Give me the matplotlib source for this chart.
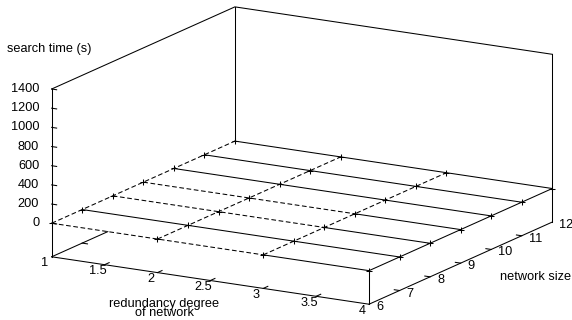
import numpy as np
import matplotlib
matplotlib.use("Agg")
import matplotlib.pyplot as plt
from mpl_toolkits.mplot3d import proj3d

plt.rcParams['font.family'] = ['Liberation Sans', 'DejaVu Sans']
plt.rcParams['font.size'] = 9.2

# measured grid: redundancy degree (x) by network size (y)
redundancy = [1, 2, 3, 4]
network_size = [6, 7, 8, 9, 10, 11, 12]
# search time (s), one row per network size
search_time = [
    [0, 0, 0, 0],
    [0, 0, 0, 0],
    [0, 0, 0, 0],
    [0, 0, 0, 0],
    [0, 0, 0, 0],
    [0, 0, 0, 0],
    [0, 0, 0, 0],
]

x_ticks = [1, 1.5, 2, 2.5, 3, 3.5, 4]
x_ticklabels = ["1", "1.5", "2", "2.5", "3", "3.5", "4"]
y_ticks = [6, 7, 8, 9, 10, 11, 12]
z_ticks = [0, 200, 400, 600, 800, 1000, 1200, 1400]

# rows drawn dashed up to redundancy 3, columns drawn dashed
dashed_rows = [6, 8, 9]
dashed_cols = [1, 2, 3]
dash_until = 3

xmin, xmax = 1, 4
ymin, ymax = 6, 12
zbase, ztop = -350, 1400

SOLID = '-'
DASHED = (0, (4.5, 2.5))
LW = 0.75

fig = plt.figure(figsize=(5.72, 3.2), dpi=100)
S = 700
cx, cy = 292.5, 155
ax = fig.add_axes([(cx - S / 2) / 572, (cy - S / 2) / 320, S / 572, S / 320],
                  projection='3d')
ax.set_proj_type('ortho')
ax.view_init(elev=15, azim=-60)
ax.set_box_aspect((1, 1, 0.474), zoom=0.758)
ax.set_xlim(xmin, xmax)
ax.set_ylim(ymin, ymax)
ax.set_zlim(zbase, ztop)
ax.set_axis_off()


def line(xs, ys, zs, ls=SOLID):
    ax.plot(xs, ys, zs, color='k', lw=LW, ls=ls, clip_on=False)


M = ax.get_proj()


def to2d(x, y, z):
    px, py, _ = proj3d.proj_transform(x, y, z, M)
    return px, py


# surface grid
X = np.array(redundancy, dtype=float)
Y = np.array(network_size, dtype=float)
Z = np.array(search_time, dtype=float)
k = redundancy.index(dash_until)
for i, n in enumerate(network_size):
    ny = np.full(len(X), n)
    if n in dashed_rows:
        line(X[:k + 1], ny[:k + 1], Z[i, :k + 1], DASHED)
        line(X[k:], ny[k:], Z[i, k:], SOLID)
    else:
        line(X, ny, Z[i], SOLID)
for j, r in enumerate(redundancy):
    line(np.full(len(Y), r), Y, Z[:, j], DASHED if r in dashed_cols else SOLID)
XX, YY = np.meshgrid(X, Y)
ax.plot(XX.ravel(), YY.ravel(), Z.ravel(), ls='none', marker='+', ms=4.5,
        mew=LW, color='k', clip_on=False)

# where the left base edge disappears under the surface
a0, a1 = np.array(to2d(xmin, ymin, zbase)), np.array(to2d(xmin, ymax, zbase))
c0, c1 = np.array(to2d(xmin, ymin, Z[0, 0])), np.array(to2d(xmax, ymin, Z[0, -1]))
d1, d2 = a1 - a0, c1 - c0
t = np.cross(c0 - a0, d2) / np.cross(d1, d2)
y_hidden = ymin + t * (ymax - ymin)

# box
line([xmin, xmax], [ymin, ymin], [zbase, zbase])
line([xmax, xmax], [ymin, ymax], [zbase, zbase])
line([xmin, xmin], [ymin, y_hidden], [zbase, zbase])
line([xmin, xmin], [ymin, ymin], [zbase, ztop])
line([xmax, xmax], [ymax, ymax], [zbase, ztop])
line([xmin, xmin], [ymax, ymax], [Z[-1, 0], ztop])
line([xmax, xmax], [ymin, ymin], [zbase, Z[0, -1]])
line([xmin, xmin, xmax], [ymin, ymax, ymax], [ztop, ztop, ztop])

# tics
for zt in z_ticks:
    line([xmin, xmin + 0.047], [ymin, ymin], [zt, zt])
for xt in x_ticks[1:-1]:
    line([xt, xt], [ymin, ymin + 0.15], [zbase, zbase])
for yt in y_ticks[1:-1]:
    line([xmax, xmax - 0.05], [yt, yt], [zbase, zbase])
    if yt <= y_hidden:
        line([xmin, xmin + 0.05], [yt, yt], [zbase, zbase])


def label(text, xyz, dx, dy, **kw):
    ax.annotate(text, xy=to2d(*xyz), xycoords='data', xytext=(dx, dy),
                textcoords='offset pixels', annotation_clip=False, **kw)


for zt in z_ticks:
    label(str(zt), (xmin, ymin, zt), -12.5, 0, ha='right', va='center')
for xt, s in zip(x_ticks, x_ticklabels):
    label(s, (xt, ymin, zbase), -7, -6.5, ha='center', va='center')
for yt in y_ticks:
    label(str(yt), (xmax, yt, zbase), 7, -3, ha='left', va='center')

label("search time (s)", (xmin, ymin, ztop), -2, 40, ha='center', va='center')
label("redundancy degree\nof network", (2.5, ymin, zbase), -46, -28,
      ha='center', va='center', linespacing=0.72)
label("network size", (xmax, 9, zbase), 39, -13.5, ha='left', va='center')

fig.savefig("out.png", dpi=100)
